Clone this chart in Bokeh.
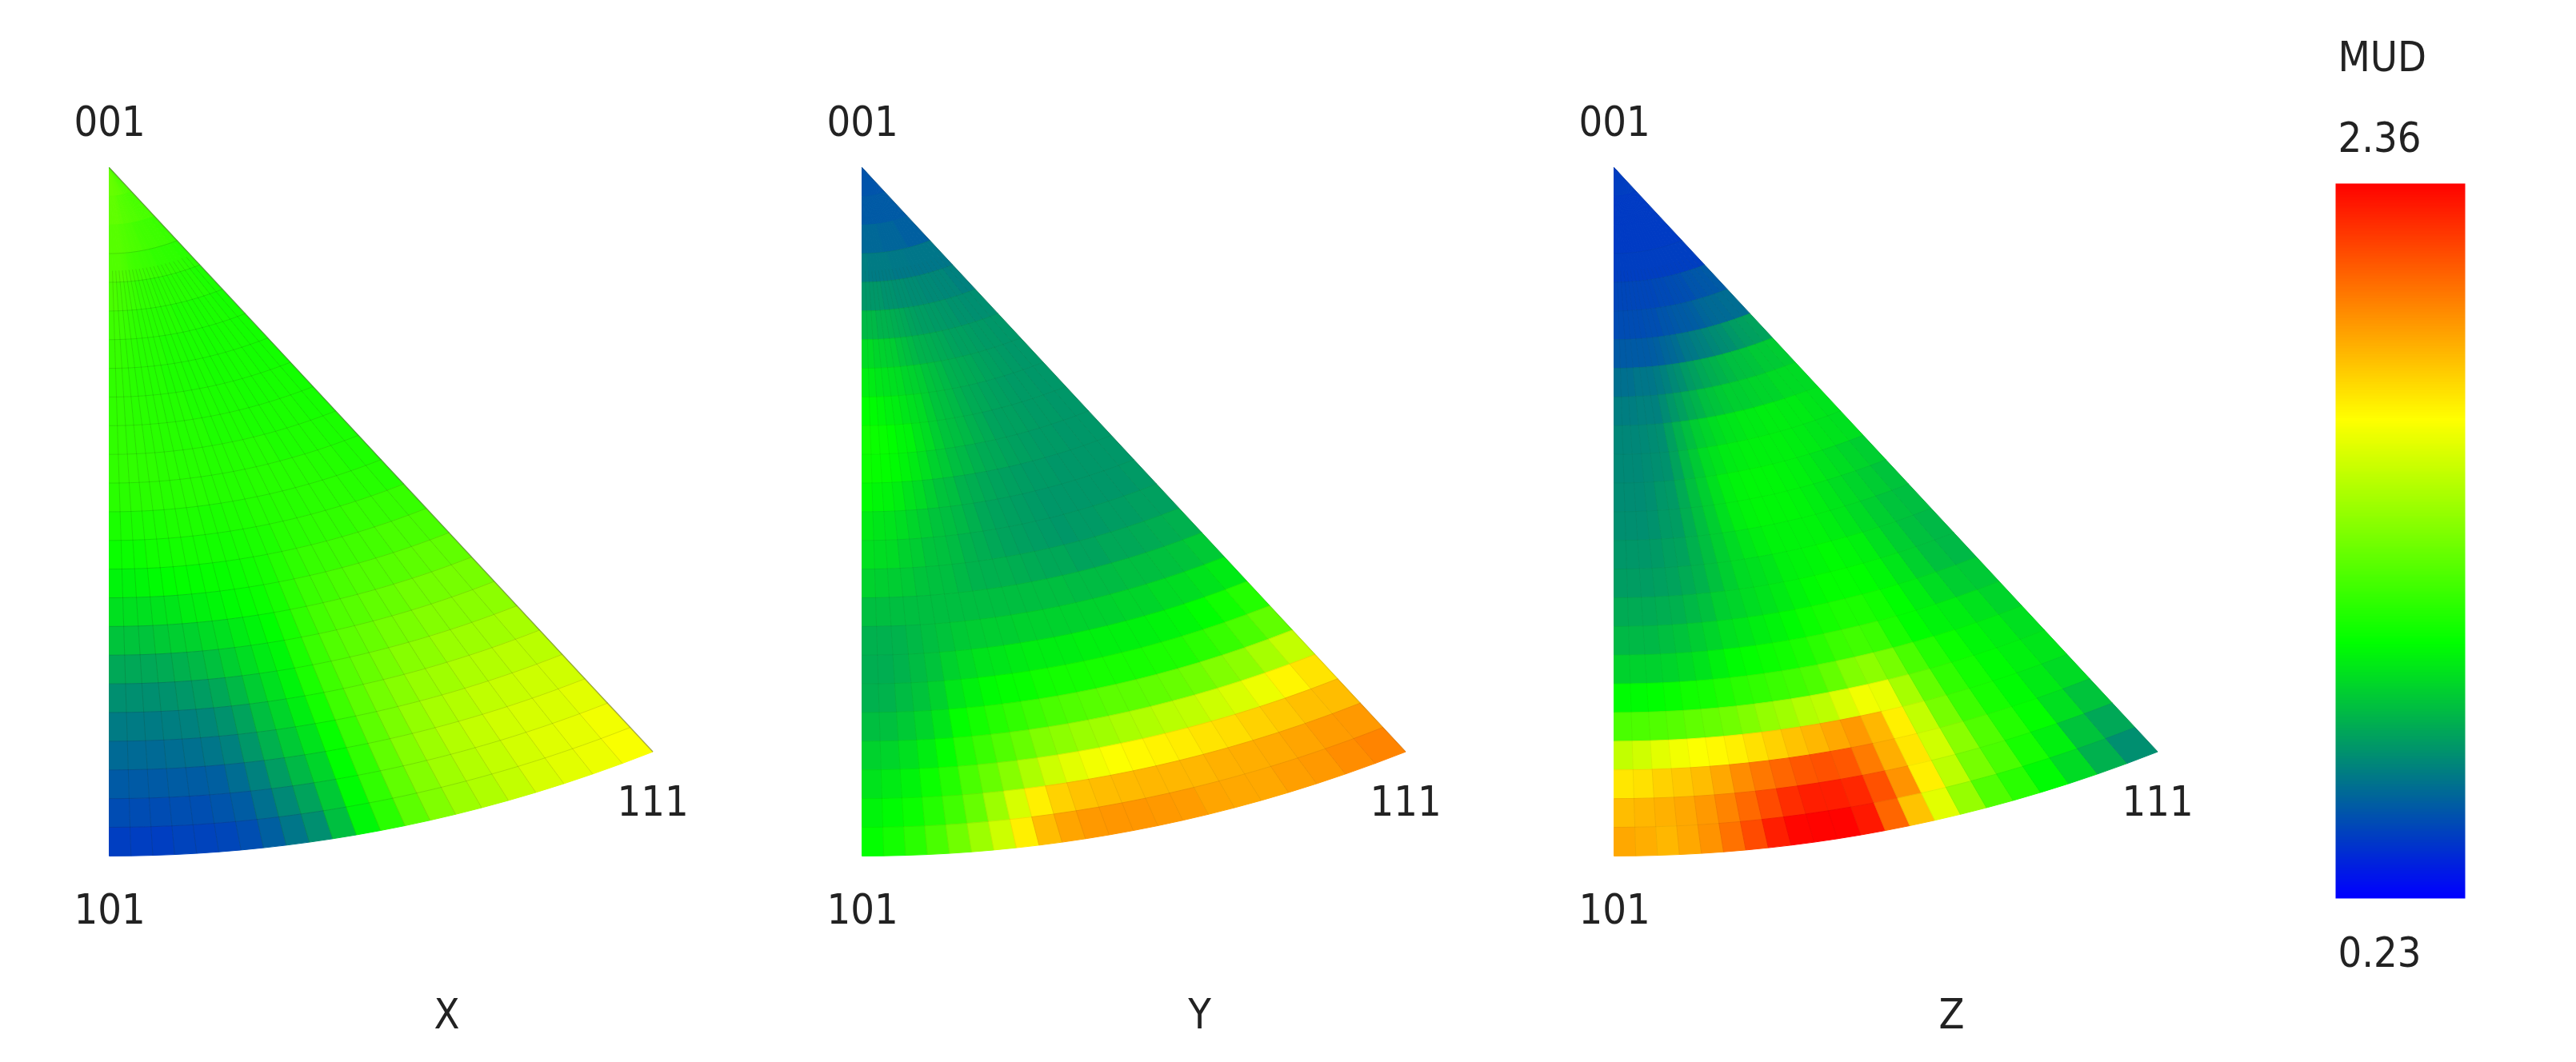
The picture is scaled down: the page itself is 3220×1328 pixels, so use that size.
import numpy as np
from bokeh.core.properties import value
from bokeh.embed import file_html
from bokeh.layouts import row
from bokeh.models import ColorBar, ColumnDataSource, FixedTicker, LinearColorMapper, Range1d
from bokeh.plotting import figure
from bokeh.resources import INLINE
from bokeh.transform import transform

# MUD values, in hundredths, read cell by cell: rows run from 001 to the 101-111 arc,
# columns run from the 001-101 edge to the 001-111 edge.
x_mud = [
[126,126,126,126,126,126,125,125,125,125,124,124,124,123,123,122,122,121,121,120,120,120],
[124,124,124,124,124,124,123,123,122,122,122,121,121,120,120,120,119,119,118,118,118,118],
[122,122,122,122,122,121,120,120,119,119,118,118,117,117,116,116,116,115,115,115,114,114],
[120,120,120,120,119,118,117,116,115,115,114,114,113,113,112,112,112,111,111,111,110,110],
[118,118,117,116,115,114,113,112,112,111,111,110,110,110,109,109,109,108,108,108,107,107],
[115,115,114,113,112,111,110,110,109,109,108,108,108,107,107,107,106,106,106,106,105,105],
[113,113,112,111,110,109,109,108,108,107,107,107,106,106,106,105,105,105,105,105,104,104],
[112,112,111,110,109,109,108,108,107,107,107,106,106,106,105,105,105,105,105,104,104,104],
[112,112,111,110,110,109,109,108,108,108,107,107,107,106,106,106,105,105,105,105,105,104],
[112,112,111,111,110,110,109,109,108,108,108,107,107,107,107,106,106,106,106,106,105,105],
[112,112,112,111,111,110,110,109,109,109,108,108,108,108,108,108,107,107,107,107,106,106],
[110,110,110,110,110,109,109,109,109,108,108,108,108,109,109,109,109,109,108,108,107,107],
[106,106,106,106,106,107,107,107,106,106,107,107,108,108,109,109,110,110,110,109,109,108],
[102,102,102,103,103,104,104,104,104,104,105,106,107,109,110,111,112,112,113,113,113,113],
[96,96,97,98,99,100,100,101,101,102,103,105,108,111,113,114,115,116,117,118,118,118],
[90,90,90,91,92,94,95,97,98,100,102,105,110,114,116,118,120,121,122,123,124,124],
[82,82,82,83,85,86,88,90,93,96,99,105,112,117,120,122,124,126,128,129,130,130],
[73,73,73,74,76,78,81,85,89,93,97,106,114,120,123,126,129,131,133,134,135,136],
[66,66,66,67,68,70,73,78,84,90,96,106,115,122,126,130,134,136,139,140,141,142],
[60,60,60,61,62,63,67,72,80,87,94,104,115,123,129,134,138,141,144,146,147,147],
[55,55,55,56,57,58,62,68,76,83,91,101,113,123,131,137,142,146,149,151,152,153],
[50,50,50,51,51,52,56,62,70,78,87,99,112,124,133,140,146,150,153,155,156,158],
[46,46,46,47,47,48,51,57,64,72,83,98,112,124,133,141,146,150,154,157,159,162],
[42,42,42,43,43,44,47,52,58,66,80,97,110,123,132,140,145,150,155,158,161,164],
]
y_mud = [
[48,48,48,48,48,48,48,48,48,48,48,48,48,48,48,48,48,48,48,48,48,48],
[50,50,50,50,50,50,50,50,50,50,50,50,50,50,50,50,50,50,50,50,50,50],
[54,54,54,54,54,54,54,54,53,53,53,53,53,53,53,53,52,52,52,52,52,52],
[61,61,60,60,60,60,60,60,60,59,59,59,59,59,58,58,58,58,58,58,58,58],
[68,68,68,68,68,67,67,67,66,66,66,65,65,65,64,64,64,63,63,63,62,62],
[78,78,78,77,77,76,75,74,73,72,71,70,70,69,69,68,68,67,67,66,66,66],
[88,88,87,86,85,84,82,80,78,77,76,75,74,73,72,71,71,70,69,69,68,68],
[94,93,92,91,90,89,87,86,84,82,80,78,76,75,74,73,72,71,70,69,68,68],
[99,98,97,95,94,92,90,88,85,82,80,78,76,74,73,72,71,70,69,69,68,68],
[103,102,101,99,97,96,92,89,85,82,80,78,76,74,72,71,71,70,69,69,68,68],
[102,101,100,98,96,93,90,86,83,80,78,76,74,73,72,71,70,69,69,68,68,68],
[98,97,96,94,91,88,85,82,80,77,75,73,72,71,70,69,69,68,68,68,68,68],
[93,92,91,89,87,84,82,80,78,76,73,72,71,70,69,68,68,68,68,68,68,69],
[90,89,88,86,84,82,81,79,77,75,73,72,71,70,69,68,69,69,70,70,71,71],
[86,85,84,83,82,81,80,78,77,76,76,75,74,73,73,72,72,73,73,74,75,76],
[80,80,80,80,80,80,80,80,80,80,80,80,80,80,79,79,79,80,80,81,82,83],
[76,76,77,78,80,82,83,84,85,85,86,86,86,86,86,86,87,87,88,89,91,93],
[75,75,77,79,82,86,88,91,92,93,94,94,94,95,95,95,95,96,97,99,103,108],
[76,77,79,82,86,92,95,98,100,101,103,104,104,105,105,105,106,107,110,113,118,124],
[80,81,83,87,92,100,104,108,112,115,118,120,122,123,123,124,126,128,132,136,142,150],
[86,87,90,94,100,108,114,120,126,132,136,139,141,143,145,147,149,152,156,161,168,173],
[91,93,96,102,108,118,126,134,144,152,158,162,165,167,169,171,173,175,178,181,183,184],
[96,98,102,108,116,126,140,155,170,178,182,184,185,186,186,186,187,188,189,191,193,194],
[100,104,110,118,128,140,152,170,184,191,194,195,195,194,193,191,190,190,192,194,197,200],
]
z_mud = [
[42,42,42,42,42,42,42,42,42,42,42,42,42,42,42,42,42,42,42,42,42,42],
[41,41,41,41,41,41,41,41,41,41,41,41,41,41,41,41,41,41,41,41,41,41],
[41,41,41,41,41,41,41,41,41,41,41,41,41,41,41,41,41,41,41,41,41,41],
[42,42,42,42,42,42,42,42,42,42,42,42,42,42,42,42,42,42,42,42,42,42],
[44,44,44,44,44,44,44,44,44,44,45,45,45,46,46,47,47,48,48,49,49,50],
[46,46,46,46,46,46,47,47,47,48,48,49,50,50,51,52,53,54,55,55,56,56],
[50,50,50,50,50,50,51,52,53,54,56,58,59,61,62,63,65,66,68,70,71,72],
[57,57,57,58,58,58,60,62,64,66,69,71,73,75,77,78,80,81,82,83,83,84],
[61,61,61,62,62,62,65,68,71,74,77,80,82,83,85,85,86,87,87,88,88,88],
[63,63,63,64,65,66,71,76,80,84,87,89,91,92,93,93,94,94,93,93,92,91],
[64,64,64,65,66,67,72,78,83,88,91,93,94,95,95,95,95,94,93,92,91,90],
[65,65,65,66,68,69,74,80,85,90,94,96,97,97,97,96,95,93,91,89,87,85],
[66,66,66,67,69,70,75,80,85,90,94,96,97,97,97,96,94,92,89,87,84,82],
[68,68,68,69,71,72,76,80,85,88,92,94,96,96,96,96,94,92,88,85,82,80],
[70,70,70,71,72,74,77,81,85,88,90,92,95,96,97,98,97,95,90,85,81,78],
[74,74,74,75,76,78,81,85,87,89,91,93,96,98,100,100,99,97,92,86,81,78],
[78,78,78,80,82,84,87,90,92,94,96,98,102,104,106,106,103,99,94,89,85,83],
[86,86,86,87,88,91,95,98,100,102,103,106,110,114,116,114,106,99,96,94,91,87],
[98,98,99,101,103,104,107,110,112,114,116,119,125,132,136,130,118,108,102,97,94,90],
[118,119,120,122,124,126,128,132,137,141,146,148,156,162,160,142,125,112,104,98,95,92],
[150,153,158,162,165,167,170,174,178,182,186,190,194,186,170,150,130,115,105,98,93,88],
[172,174,178,181,184,190,197,203,208,212,214,212,202,188,172,153,135,120,108,100,90,82],
[184,186,187,190,194,200,207,216,224,228,228,226,214,196,170,148,130,118,105,95,82,73],
[190,188,186,190,196,205,216,228,235,236,236,230,208,182,158,138,120,110,98,88,76,66],
]
panel_names = ["X", "Y", "Z"]
corner_labels = ["001", "101", "111"]
legend_title = "MUD"
legend_max = 2.36
legend_min = 0.23

# layout, in reference pixels
Y_SCALE = 1.2194            # the picture is stretched vertically
PANEL_LEFT = [0, 940, 1880]
PANEL_W = 940
APEX_X = [136, 1077, 2017]
APEX_Y = 209
PAGE_BOTTOM = 1320
FONT = "DejaVu Sans Condensed"
FS = "52px"
TEXT = "#222222"
MESH_ALPHA = [0.16, 0.08, 0.06]
EDGE_ALPHA = [0.5, 0.15, 0.1]
PHI_MAX = np.radians(48.6)
CY, RAD = 1508.0, 2214.0


def edge(phi):
    c = CY * np.cos(phi)
    return -c + np.sqrt(c * c - CY * CY + RAD * RAD)


def point(v, u):
    phi = PHI_MAX * u
    r = edge(phi) * v
    return r * np.sin(phi), -r * np.cos(phi)


def data_y(page_y):
    return -(page_y - APEX_Y) / Y_SCALE


def ramp(a, b, n):
    return [tuple(int(round(a[k] + (b[k] - a[k]) * i / n)) for k in range(3)) for i in range(n)]


palette = ramp((0, 0, 255), (0, 255, 0), 91) + ramp((0, 255, 0), (255, 255, 0), 80) + ramp((255, 255, 0), (255, 0, 0), 85)
palette = ["#%02x%02x%02x" % c for c in palette]
mapper = LinearColorMapper(palette=palette, low=legend_min, high=legend_max)


def panel(k, grid):
    rows, cols = len(grid), len(grid[0])
    x0 = PANEL_LEFT[k] - APEX_X[k]
    p = figure(width=PANEL_W, height=PAGE_BOTTOM, output_backend="svg", toolbar_location=None,
               x_range=Range1d(x0, x0 + PANEL_W), y_range=Range1d(data_y(PAGE_BOTTOM), data_y(0)),
               min_border=0, outline_line_color=None)
    p.axis.visible = False
    p.grid.visible = False
    xs, ys, vals = [], [], []
    for i in range(rows):
        for j in range(cols):
            v0, v1, u0, u1 = i / rows, (i + 1) / rows, j / cols, (j + 1) / cols
            cell = [point(v0, u0), point(v0, u1), point(v1, u1), point(v1, u0)]
            xs.append([c[0] for c in cell])
            ys.append([c[1] for c in cell])
            vals.append(grid[i][j] / 100)
    src = ColumnDataSource(dict(xs=xs, ys=ys, mud=vals))
    col = transform("mud", mapper)
    p.patches("xs", "ys", source=src, fill_color=col, line_color=col, line_width=1)
    mx, my = [], []
    fine = np.linspace(0, 1, 40)
    for i in range(3, rows):
        pts = [point(i / rows, u) for u in fine]
        mx.append([a for a, _ in pts]); my.append([b for _, b in pts])
    for j in range(1, cols):
        pts = [point(v, j / cols) for v in np.linspace(0.15, 1, 30)]
        mx.append([a for a, _ in pts]); my.append([b for _, b in pts])
    p.multi_line(mx, my, line_color="#203010", line_alpha=MESH_ALPHA[k], line_width=1)
    hyp = [point(v, 1) for v in fine]
    p.line([a for a, _ in hyp], [b for _, b in hyp], line_color="#606050", line_alpha=EDGE_ALPHA[k], line_width=1.5)
    lx = [92 - 136, 92 - 136, 771 - 136]
    ly = [data_y(150), data_y(1135), data_y(1000)]
    p.text(lx, ly, text=corner_labels, text_font=value(FONT), text_font_size=FS, text_color=TEXT,
           text_align="left", text_baseline="middle")
    p.text([558 - 136], [data_y(1267)], text=[panel_names[k]], text_font=value(FONT), text_font_size=FS,
           text_color=TEXT, text_align="center", text_baseline="middle")
    return p


panels = [panel(k, g) for k, g in enumerate([x_mud, y_mud, z_mud])]

left = PANEL_LEFT[2] + PANEL_W
q = figure(width=3212 - left, height=PAGE_BOTTOM, output_backend="svg", toolbar_location=None,
           x_range=Range1d(left, 3212), y_range=Range1d(PAGE_BOTTOM, 0), min_border=0, outline_line_color=None)
q.axis.visible = False
q.grid.visible = False
q.text([2922, 2922, 2922], [70, 170, 1189],
       text=[legend_title, "%.2f" % legend_max, "%.2f" % legend_min],
       text_font=value(FONT), text_font_size=FS, text_color=TEXT, text_align="left", text_baseline="middle")
bar = ColorBar(color_mapper=mapper, width=162, height=894, location=(2919 - left, PAGE_BOTTOM - 1123),
               ticker=FixedTicker(ticks=[]), major_tick_line_color=None, minor_tick_line_color=None,
               bar_line_color=None, border_line_color=None, background_fill_color=None,
               padding=0, margin=0, major_label_text_font_size="0px")
q.add_layout(bar, "center")

layout = row(*panels, q, spacing=0)
open("out.html", "w").write(file_html(layout, INLINE))
